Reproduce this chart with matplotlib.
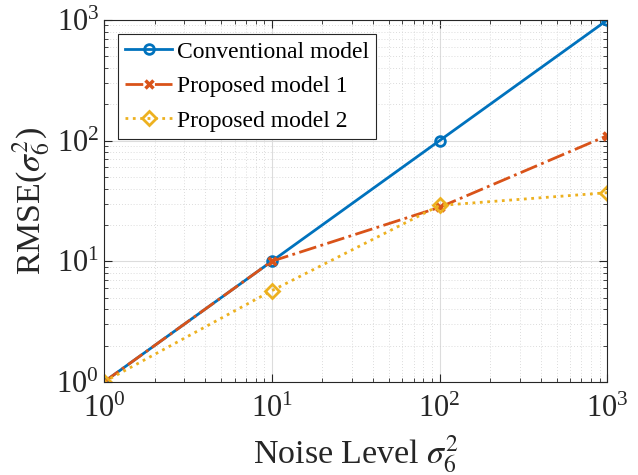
import matplotlib
matplotlib.use("Agg")
import matplotlib.pyplot as plt
from matplotlib.ticker import LogLocator, NullFormatter

plt.rcParams['font.family'] = ['Liberation Serif', 'DejaVu Serif']
plt.rcParams['mathtext.fontset'] = 'stix'

noise = [1, 10, 100, 1000]
conventional = [1, 10, 100, 1000]
proposed1 = [1, 10, 28, 110]
proposed2 = [1, 5.7, 29, 37]

fig = plt.figure(figsize=(6.38, 4.75), dpi=100)
ax = fig.add_axes([0.163, 0.196, 0.789, 0.762])

ax.loglog(noise, conventional, '-o', color='#0072BD', lw=2, ms=7, mfc='none', mew=2, label='Conventional model')
ax.loglog(noise, proposed1, '-.x', color='#D95319', lw=2, ms=6, mew=2.5, label='Proposed model 1')
ax.loglog(noise, proposed2, ':D', color='#EDB120', lw=2, ms=7, mfc='none', mew=2, label='Proposed model 2')

ax.set_xlim(1, 1000)
ax.set_ylim(1, 1000)
ax.xaxis.set_major_locator(LogLocator(base=10, numticks=10))
ax.yaxis.set_major_locator(LogLocator(base=10, numticks=10))
ax.xaxis.set_minor_locator(LogLocator(base=10, subs=range(2, 10), numticks=20))
ax.yaxis.set_minor_locator(LogLocator(base=10, subs=range(2, 10), numticks=20))
ax.xaxis.set_minor_formatter(NullFormatter())
ax.yaxis.set_minor_formatter(NullFormatter())

ax.grid(True, which='major', color='#dcdcdc', lw=0.8, ls='-')
ax.grid(True, which='minor', color='#d0d0d0', lw=0.6, ls=(0, (1, 2.5)))
ax.set_axisbelow(True)

ax.tick_params(which='both', direction='in', top=True, right=True, labelsize=22, colors='#262626')
ax.tick_params(which='major', length=6)
ax.tick_params(which='minor', length=3)
ax.tick_params(axis='x', pad=9)
for s in ax.spines.values():
    s.set_color('#262626')
    s.set_linewidth(0.8)

ax.set_xlabel(r'Noise Level $\sigma_6^2$', fontsize=24.5, color='#262626', labelpad=7)
ax.set_ylabel(r'RMSE($\sigma_6^2$)', fontsize=24.5, color='#262626', labelpad=3)

leg = ax.legend(loc='upper left', fontsize=17, fancybox=False, edgecolor='#262626',
                framealpha=1, borderaxespad=0.6, handlelength=2.0, handletextpad=0.2,
                labelspacing=0.55, borderpad=0.3)
leg.get_frame().set_linewidth(0.8)

fig.savefig('out.png', dpi=100)
